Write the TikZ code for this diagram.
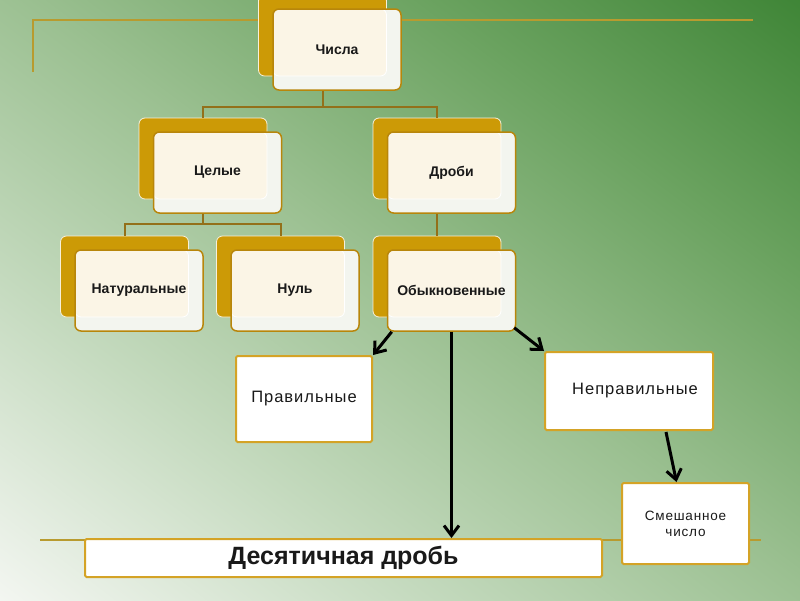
\documentclass[tikz,border=0pt]{standalone}
\usepackage{fontspec}
\setmainfont{Liberation Sans}
\newfontfamily\spacedfont[LetterSpace=6]{Liberation Sans}
\usetikzlibrary{arrows.meta,calc}
\definecolor{bgA}{HTML}{F3F6F1}
\definecolor{bgB}{HTML}{C6DBC0}
\definecolor{bgC}{HTML}{9BC091}
\definecolor{bgE}{HTML}{6AA25F}
\definecolor{bgD}{HTML}{3A8232}
\definecolor{gline}{HTML}{B89B2F}
\definecolor{conn}{HTML}{93701A}
\definecolor{backgold}{HTML}{CC9A06}
\definecolor{cream}{HTML}{FBF5E6}
\definecolor{glass}{HTML}{F3F5EF}
\definecolor{frontedge}{HTML}{B8860B}
\definecolor{boxedge}{HTML}{D4A326}
\pgfdeclareverticalshading{bgshade}{100bp}{color(0bp)=(bgA); color(15bp)=(bgA); color(33bp)=(bgB); color(51bp)=(bgC); color(69bp)=(bgE); color(87bp)=(bgD); color(100bp)=(bgD)}
\tikzset{
  backbox/.style={fill=backgold, draw=white!85!backgold, line width=0.8pt, rounded corners=6pt,
    minimum width=128pt, minimum height=81pt, inner sep=0pt},
  frontbox/.style={fill=glass, draw=frontedge, line width=1.5pt, rounded corners=6pt,
    minimum width=128pt, minimum height=81pt, inner sep=0pt,
    font=\fontsize{14}{16}\selectfont\bfseries, text=black!90,
    path picture={\fill[cream, rounded corners=6pt] (path picture bounding box.north west) rectangle ++(113.5,67);
      \draw[white, line width=0.8pt, rounded corners=6pt] (path picture bounding box.north west) rectangle ++(113.5,67);}},
  plainbox/.style={fill=white, draw=boxedge, line width=2pt, rounded corners=1.5pt, inner sep=0pt, text=black!90},
  treeline/.style={draw=conn, line width=2pt},
  decoline/.style={draw=gline, line width=2.4pt},
  arrowline/.style={draw=black, line width=3pt, -{Straight Barb[length=10pt,width=15pt]}}
}
\begin{document}
\begin{tikzpicture}[x=1pt,y=-1pt]
\useasboundingbox (0,0) rectangle (800,600);
\shade[shading=bgshade, shading angle=-37] (0,0) rectangle (800,600);
% decorative lines
\coordinate (tl1) at (33,72);
\coordinate (tl2) at (33,20);
\coordinate (tl3) at (753,20);
\draw[decoline] (tl1) -- (tl2) -- (tl3);
\coordinate (bl1) at (40,540);
\coordinate (bl2) at (761,540);
\draw[decoline, line width=1.8pt] (bl1) -- (bl2);
% back boxes
\node[backbox] (chislaB) at (322.5,35.5) {};
\node[backbox] (celyeB) at (203,158.5) {};
\node[backbox] (drobiB) at (437,158.5) {};
\node[backbox] (natB) at (124.5,276.5) {};
\node[backbox] (nulB) at (280.5,276.5) {};
\node[backbox] (obykB) at (437,276.5) {};
% tree connectors
\draw[treeline] (chislaB.south) -- ++(0,31) -| (celyeB.north);
\draw[treeline] (chislaB.south) -- ++(0,31) -| (drobiB.north);
\draw[treeline] (celyeB.south) -- ++(0,25) -| (natB.north);
\draw[treeline] (celyeB.south) -- ++(0,25) -| (nulB.north);
\draw[treeline] (drobiB.south) -- (obykB.north);
% front boxes
\node[frontbox] (chislaF) at (337,49.5) {Числа};
\node[frontbox] (celyeF) at (217.5,172.5) {Целые};
\node[frontbox] (drobiF) at (451.5,172.5) {Дроби};
\node[frontbox] (natF) at (139,290.5) {Натуральные};
\node[frontbox] (nulF) at (295,290.5) {Нуль};
\node[frontbox] (obykF) at (451.5,290.5) {Обыкновенные};
% plain boxes
\node[plainbox, minimum width=136pt, minimum height=86pt, font=\spacedfont\fontsize{16.5}{18}\selectfont] (prav) at (304,399) {Правильные};
\node[plainbox, minimum width=168pt, minimum height=78pt, font=\spacedfont\fontsize{16.5}{18}\selectfont] (neprav) at (629,391) {\hspace{12pt}Неправильные};
\node[plainbox, minimum width=127pt, minimum height=81pt, font=\spacedfont\fontsize{13.5}{16}\selectfont, align=center] (smesh) at (685.5,523.5) {Смешанное\\число};
\node[plainbox, minimum width=517pt, minimum height=38pt, font=\fontsize{25}{28}\selectfont\bfseries] (dec) at (343.5,558) {Десятичная дробь};
% arrows
\draw[arrowline] ($(obykF.south west)+(5,0)$) -- (prav.north east);
\draw[arrowline] ($(obykF.south east)+(-2,-4)$) -- (neprav.north west);
\draw[arrowline] (obykF.south) -- (obykF.south |- dec.north);
\draw[arrowline] ($(neprav.south east)+(-48,1)$) -- ($(smesh.north)+(-9,0)$);
\end{tikzpicture}
\end{document}
